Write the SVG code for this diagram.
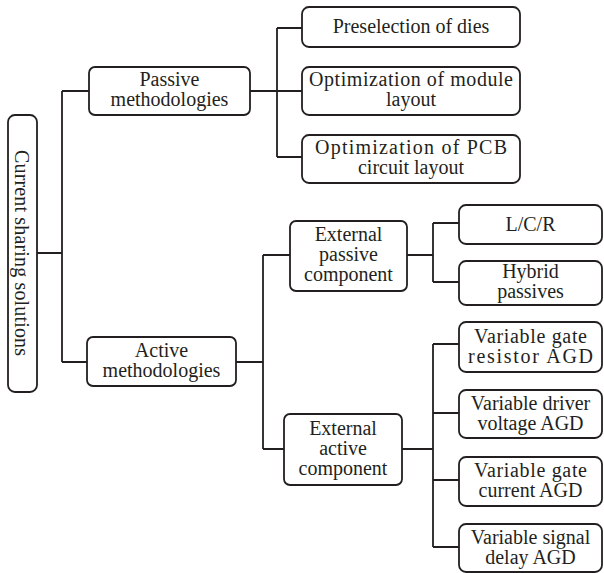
<svg xmlns="http://www.w3.org/2000/svg" width="604" height="573" viewBox="0 0 604 573">
  <style>
    .box { fill: #ffffff; stroke: #231f20; stroke-width: 1.8; }
    .wire { fill: none; stroke: #231f20; stroke-width: 1.8; }
    .t { font-family: 'Liberation Serif', 'DejaVu Serif', serif; font-size: 20px; fill: #231f20; text-anchor: middle; }
  </style>
  <rect width="604" height="573" fill="#ffffff"/>

  <!-- connectors -->
  <g id="connectors">
    <path class="wire" d="M37,253 H62 M62,91 V362 M62,91 H89 M62,362 H87"/>
    <path class="wire" d="M250,91 H277 M277,28 V157 M277,28 H302 M277,91 H302 M277,157 H302"/>
    <path class="wire" d="M236,362 H263 M263,255 V449 M263,255 H290 M263,449 H284"/>
    <path class="wire" d="M407,255 H433 M433,223 V282 M433,223 H459 M433,282 H459"/>
    <path class="wire" d="M402,449 H433 M433,344 V547 M433,344 H459 M433,413 H459 M433,480 H459 M433,547 H459"/>
  </g>

  <!-- root -->
  <g id="root">
    <rect class="box" x="8" y="115" width="29" height="277" rx="7"/>
    <text class="t" transform="translate(22,253) rotate(90)" y="7" textLength="206" lengthAdjust="spacing">Current sharing solutions</text>
  </g>

  <!-- level 1 -->
  <g id="passive">
    <rect class="box" x="89" y="67" width="161" height="48" rx="6"/>
    <text class="t" x="169.5" y="86">Passive</text>
    <text class="t" x="169.5" y="106">methodologies</text>
  </g>
  <g id="active">
    <rect class="box" x="87" y="337" width="149" height="49" rx="6"/>
    <text class="t" x="161.5" y="357">Active</text>
    <text class="t" x="161.5" y="377">methodologies</text>
  </g>

  <!-- passive branch -->
  <g id="preselection">
    <rect class="box" x="302" y="7" width="218" height="40" rx="7"/>
    <text class="t" x="411" y="33">Preselection of dies</text>
  </g>
  <g id="module-layout">
    <rect class="box" x="302" y="67" width="218" height="48" rx="7"/>
    <text class="t" x="411" y="86" textLength="204" lengthAdjust="spacing">Optimization of module</text>
    <text class="t" x="411" y="106">layout</text>
  </g>
  <g id="pcb-layout">
    <rect class="box" x="302" y="135" width="218" height="48" rx="7"/>
    <text class="t" x="411" y="154" textLength="192" lengthAdjust="spacing">Optimization of PCB</text>
    <text class="t" x="411" y="174">circuit layout</text>
  </g>

  <!-- active branch -->
  <g id="ext-passive">
    <rect class="box" x="290" y="221" width="117" height="70" rx="6"/>
    <text class="t" x="348.5" y="241">External</text>
    <text class="t" x="348.5" y="261">passive</text>
    <text class="t" x="348.5" y="281">component</text>
  </g>
  <g id="ext-active">
    <rect class="box" x="284" y="414" width="118" height="71" rx="6"/>
    <text class="t" x="343" y="435">External</text>
    <text class="t" x="343" y="455">active</text>
    <text class="t" x="343" y="475">component</text>
  </g>

  <g id="lcr">
    <rect class="box" x="459" y="205" width="143" height="39" rx="7"/>
    <text class="t" x="530.5" y="231">L/C/R</text>
  </g>
  <g id="hybrid">
    <rect class="box" x="459" y="261" width="143" height="44" rx="7"/>
    <text class="t" x="530.5" y="278">Hybrid</text>
    <text class="t" x="530.5" y="298">passives</text>
  </g>
  <g id="gate-resistor">
    <rect class="box" x="459" y="322" width="143" height="50" rx="7"/>
    <text class="t" x="530.5" y="343" textLength="113" lengthAdjust="spacing">Variable gate</text>
    <text class="t" x="530.5" y="363" textLength="125" lengthAdjust="spacing">resistor AGD</text>
  </g>
  <g id="driver-voltage">
    <rect class="box" x="459" y="390" width="143" height="48" rx="7"/>
    <text class="t" x="530.5" y="410">Variable driver</text>
    <text class="t" x="530.5" y="430">voltage  AGD</text>
  </g>
  <g id="gate-current">
    <rect class="box" x="459" y="457" width="143" height="49" rx="7"/>
    <text class="t" x="530.5" y="477" textLength="113" lengthAdjust="spacing">Variable gate</text>
    <text class="t" x="530.5" y="497">current AGD</text>
  </g>
  <g id="signal-delay">
    <rect class="box" x="459" y="524" width="143" height="48" rx="7"/>
    <text class="t" x="530.5" y="544">Variable signal</text>
    <text class="t" x="530.5" y="564">delay AGD</text>
  </g>
</svg>
